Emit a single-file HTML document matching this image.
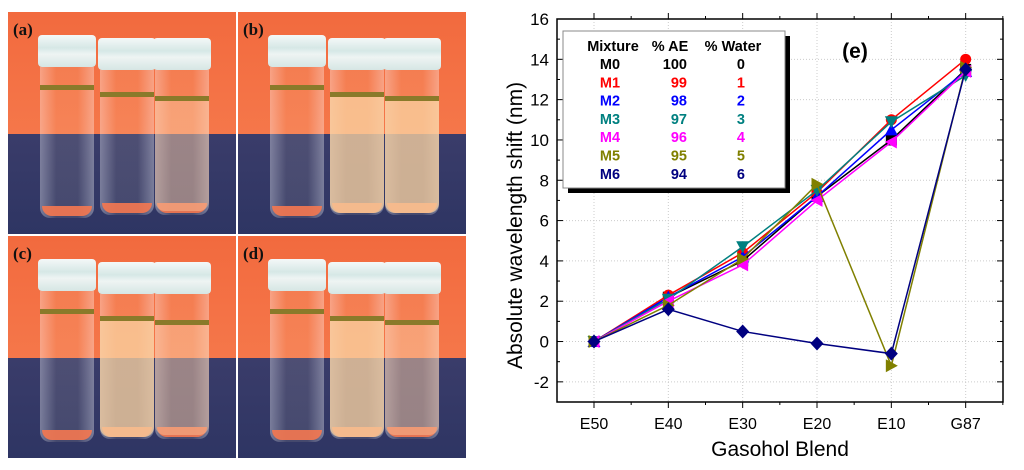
<!DOCTYPE html>
<html><head><meta charset="utf-8"><style>
body{margin:0;width:1024px;height:470px;background:#fff;position:relative;overflow:hidden;font-family:"Liberation Sans",sans-serif}
.panel{position:absolute;width:228px;height:222px;overflow:hidden;background:linear-gradient(#f26a3e 0%,#f5774a 55%,#3a3c6a 55%,#2e3563 100%)}
.lab{position:absolute;left:5px;top:8px;font:bold 17px "Liberation Serif",serif;color:#111}
.vial{position:absolute;width:54px;border-radius:0 0 10px 10px;background:linear-gradient(90deg,rgba(255,255,255,.35),rgba(255,240,200,.1) 30%,rgba(255,240,200,.1) 70%,rgba(255,255,255,.35))}
.foot{position:absolute;width:50px;height:10px;border-radius:0 0 10px 10px;background:rgba(245,120,80,.9)}
.cap{position:absolute;height:32px;border-radius:4px;background:linear-gradient(#f4f8f8,#d6e8e6 40%,#eef4f3 60%,#d6e6e4)}
.ring{position:absolute;height:5px;background:#8a7a2a}
.cloudy{position:absolute;background:rgba(250,210,160,.75);border-radius:0 0 10px 10px}
</style></head><body>
<div id="photos"></div>
<svg id="chart" width="1024" height="470" style="position:absolute;left:0;top:0"></svg>
<script>
const categories=["E50","E40","E30","E20","E10","G87"];
const yTicks=[-2,0,2,4,6,8,10,12,14,16];
const seriesNames=["M0","M1","M2","M3","M4","M5","M6"];
const aePercent=[100,99,98,97,96,95,94];
const waterPercent=[0,1,2,3,4,5,6];
const m0=[0,2.2,4.0,7.2,10.0,13.5];
const m1=[0,2.3,4.4,7.4,11.0,14.0];
const m2=[0,2.2,4.2,7.2,10.5,13.4];
const m3=[0,2.1,4.7,7.5,10.9,13.2];
const m4=[0,2.0,3.8,7.0,9.9,13.4];
const m5=[0,1.8,4.1,7.8,-1.2,13.6];
const m6=[0,1.6,0.5,-0.1,-0.6,13.5];
const seriesData=[m0,m1,m2,m3,m4,m5,m6];
const colors=["#000","#f00","#00f","#008080","#f0f","#808000","#000080"];
const markers=["square","circle","up","down","left","right","diamond"];

// photos
const ph=document.getElementById('photos');
const panels=[["a",8,12,[0,0,1]],["b",238,12,[0,2,2]],["c",8,236,[0,2,1]],["d",238,236,[0,2,1]]];
panels.forEach((p,pi)=>{
  const d=document.createElement('div');d.className='panel';
  d.style.left=p[1]+'px';d.style.top=p[2]+'px';
  
  
  let h='<div class="lab">('+p[0]+')</div>';
  [32,92,147].forEach((vx,vi)=>{
    const top=vi==0?55:58;
    const bottom=vi==0?206:203;
    h+=`<div class="vial" style="left:${vx}px;top:${top}px;height:${bottom-top}px"></div>`;
    h+=`<div class="foot" style="left:${vx+2}px;top:${bottom-12}px"></div>`;
    h+=`<div class="cap" style="left:${vx-2}px;top:${top-32}px;width:58px"></div>`;
    h+=`<div class="ring" style="left:${vx}px;top:${top+18+vi*4}px;width:54px"></div>`;
    if(p[3][vi]==2)h+=`<div class="cloudy" style="left:${vx}px;top:${top+23+vi*4}px;width:54px;height:${bottom-top-25-vi*4}px"></div>`;
    if(p[3][vi]==1)h+=`<div class="cloudy" style="left:${vx}px;top:${top+23+vi*4}px;width:54px;height:${110}px;background:rgba(250,200,160,.45)"></div>`;
  });
  d.innerHTML=h;ph.appendChild(d);
});

// chart
const svg=document.getElementById('chart');
const NS='http://www.w3.org/2000/svg';
const L=557,R=1003,T=19,B=402,yMin=-3,yMax=16;
const xs=i=>594+(R-L)/categories.length*i;
const ys=v=>B-(v-yMin)/(yMax-yMin)*(B-T);
function el(t,a,parent){const e=document.createElementNS(NS,t);for(const k in a)e.setAttribute(k,a[k]);(parent||svg).appendChild(e);return e;}
const bg=el('rect',{x:L,y:T,width:R-L,height:B-T,fill:'#fff'});


yTicks.forEach(v=>{
  const g=el('line',{x1:L,x2:R,y1:ys(v),y2:ys(v),stroke:'#ccc','stroke-dasharray':'1,2'});
  
  
  el('line',{x1:L,x2:L+6,y1:ys(v),y2:ys(v),stroke:'#000'});
  el('line',{x1:R,x2:R-6,y1:ys(v),y2:ys(v),stroke:'#000'});
  el('line',{x1:L,x2:L+3,y1:ys(v+1),y2:ys(v+1),stroke:'#000'});
  el('line',{x1:R,x2:R-3,y1:ys(v+1),y2:ys(v+1),stroke:'#000'});
  const t=el('text',{x:L-8,y:ys(v)+6,'text-anchor':'end','font-size':17,fill:'#000'});t.textContent=v;
  
  
});
categories.forEach((c,i)=>{
  const g=el('line',{x1:xs(i),x2:xs(i),y1:T,y2:B,stroke:'#ccc','stroke-dasharray':'1,2'});
  
  
  el('line',{x1:xs(i),x2:xs(i),y1:B,y2:B+6,stroke:'#000'});
  el('line',{x1:xs(i),x2:xs(i),y1:T,y2:T-6,stroke:'#000'});
  el('line',{x1:xs(i+0.5),x2:xs(i+0.5),y1:B,y2:B+3,stroke:'#000'});
  el('line',{x1:xs(i+0.5),x2:xs(i+0.5),y1:T,y2:T-3,stroke:'#000'});
  const t=el('text',{x:xs(i),y:B+27,'text-anchor':'middle','font-size':16});t.textContent=c;
  
  
});
const frame=el('rect',{x:L,y:T,width:R-L,height:B-T,fill:'none',stroke:'#000','stroke-width':1.5});


const xt=el('text',{x:780,y:456,'text-anchor':'middle','font-size':21});xt.textContent='Gasohol Blend';


const yt=el('text',{x:0,y:0,'text-anchor':'middle','font-size':21,transform:`translate(522,${(T+B)/2+15}) rotate(-90)`});yt.textContent='Absolute wavelength shift (nm)';


const et=el('text',{x:855,y:58,'text-anchor':'middle','font-size':21,'font-weight':'bold'});et.textContent='(e)';



function marker(type,x,y,c,g){
  const s=5.5;let e;
  if(type=='square')e=el('rect',{x:x-s,y:y-s,width:2*s,height:2*s,fill:c},g);
  else if(type=='circle')e=el('circle',{cx:x,cy:y,r:s,fill:c},g);
  else{let p;
    if(type=='up')p=[[x,y-s-1],[x+s+1,y+s],[x-s-1,y+s]];
    if(type=='down')p=[[x,y+s+1],[x+s+1,y-s],[x-s-1,y-s]];
    if(type=='left')p=[[x-s-1,y],[x+s,y-s-1],[x+s,y+s+1]];
    if(type=='right')p=[[x+s+1,y],[x-s,y-s-1],[x-s,y+s+1]];
    if(type=='diamond')p=[[x,y-s-1.5],[x+s+1,y],[x,y+s+1.5],[x-s-1,y]];
    e=el('polygon',{points:p.map(q=>q.join(',')).join(' '),fill:c},g);}
  
  
}
seriesData.forEach((d,si)=>{
  const g=el('g',{});
  
  
  const ln=el('polyline',{points:d.map((v,i)=>xs(i)+','+ys(v)).join(' '),fill:'none',stroke:colors[si],'stroke-width':1.5},g);
  
  
  d.forEach((v,i)=>marker(markers[si],xs(i),ys(v),colors[si],g));
});
// legend table
const lg=el('g',{});


el('rect',{x:568,y:36,width:222,height:157,fill:'#000'},lg);
el('rect',{x:563,y:31,width:222,height:157,fill:'#fff',stroke:'#888'},lg);
[["Mixture",613],["% AE",670],["% Water",733]].forEach(h=>{
  const t=el('text',{x:h[1],y:51,'text-anchor':'middle','font-size':14.5,'font-weight':'bold'},lg);t.textContent=h[0];
  
  
});
seriesNames.forEach((n,i)=>{
  const y=69+i*18.3;
  const r=el('g',{fill:colors[i],'font-size':14.5,'font-weight':'bold'},lg);
  
  
  const a=el('text',{x:610,y:y,'text-anchor':'middle'},r);a.textContent=n;
  const b=el('text',{x:687,y:y,'text-anchor':'end'},r);b.textContent=aePercent[i];
  const c=el('text',{x:745,y:y,'text-anchor':'end'},r);c.textContent=waterPercent[i];
});
</script>
</body></html>
